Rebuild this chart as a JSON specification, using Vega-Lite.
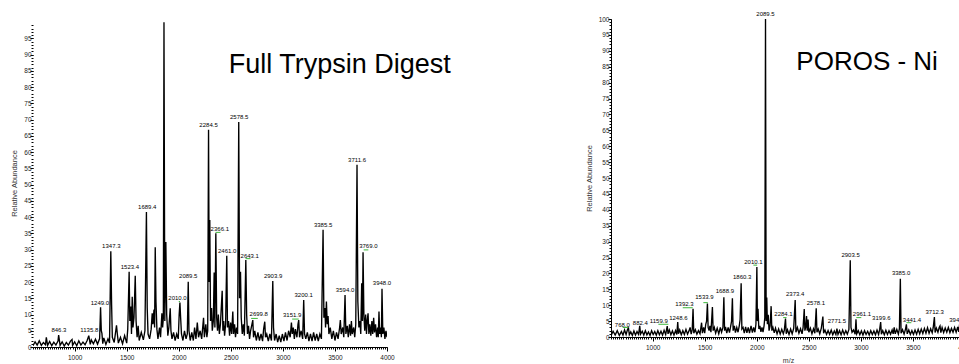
{
  "$schema": "https://vega.github.io/schema/vega-lite/v6.json",
  "padding": {"left": 10, "top": 10, "right": 0, "bottom": 0},
  "spacing": 133,
  "config": {"view": {"stroke": null}, "axis": {"grid": false, "domainColor": "black", "tickColor": "black", "labelColor": "#222", "labelFont": "Liberation Sans Narrow, Liberation Sans", "labelFontSize": 6.5, "titleFont": "Liberation Sans", "titleFontWeight": "normal", "titleColor": "#333"}},
  "datasets": {
    "left": [
      {"mz":600,"i":0.4},{"mz":620,"i":1.6},{"mz":640,"i":0.6},{"mz":660,"i":1.9},{"mz":680,"i":0.5},{"mz":700,"i":1.4},{"mz":720,"i":0.7},{"mz":728,"i":3.0},{"mz":740,"i":0.5},{"mz":760,"i":1.7},{"mz":780,"i":0.4},{"mz":800,"i":1.5},{"mz":820,"i":0.6},{"mz":840,"i":1.8},{"mz":846.3,"i":3.7},{"mz":860,"i":0.5},{"mz":880,"i":1.6},{"mz":900,"i":0.3},{"mz":920,"i":1.4},{"mz":940,"i":0.6},{"mz":960,"i":1.8},{"mz":975,"i":2.3},{"mz":980,"i":0.5},{"mz":1000,"i":1.6},{"mz":1020,"i":0.4},{"mz":1040,"i":1.9},{"mz":1060,"i":0.6},{"mz":1080,"i":1.5},{"mz":1100,"i":0.7},{"mz":1120,"i":2.0},{"mz":1135.8,"i":3.5},{"mz":1150,"i":0.8},{"mz":1160,"i":2.2},{"mz":1180,"i":1.0},{"mz":1200,"i":2.4},{"mz":1220,"i":0.9},{"mz":1240,"i":2.6},{"mz":1249,"i":12.2},{"mz":1256,"i":5.0},{"mz":1262,"i":4.2},{"mz":1270,"i":1.0},{"mz":1280,"i":2.8},{"mz":1300,"i":0.8},{"mz":1320,"i":2.5},{"mz":1335,"i":1.2},{"mz":1347.3,"i":29.5},{"mz":1355,"i":13.0},{"mz":1362,"i":3.0},{"mz":1380,"i":1.4},{"mz":1395,"i":5.0},{"mz":1402,"i":6.7},{"mz":1410,"i":4.0},{"mz":1420,"i":1.2},{"mz":1440,"i":3.0},{"mz":1460,"i":1.0},{"mz":1480,"i":3.5},{"mz":1500,"i":1.2},{"mz":1510,"i":5.5},{"mz":1523.4,"i":23.2},{"mz":1530,"i":8.0},{"mz":1540,"i":12.5},{"mz":1546,"i":4.0},{"mz":1553,"i":15.5},{"mz":1560,"i":6.0},{"mz":1570,"i":9.0},{"mz":1582,"i":21.9},{"mz":1590,"i":8.0},{"mz":1600,"i":3.0},{"mz":1610,"i":6.5},{"mz":1620,"i":2.0},{"mz":1640,"i":4.5},{"mz":1660,"i":2.2},{"mz":1675,"i":5.0},{"mz":1689.4,"i":41.6},{"mz":1697,"i":12.0},{"mz":1705,"i":4.0},{"mz":1720,"i":2.5},{"mz":1735,"i":5.5},{"mz":1745,"i":10.4},{"mz":1752,"i":7.0},{"mz":1762,"i":11.5},{"mz":1768,"i":6.0},{"mz":1774,"i":30.7},{"mz":1781,"i":14.0},{"mz":1790,"i":5.5},{"mz":1800,"i":2.5},{"mz":1815,"i":6.0},{"mz":1825,"i":3.0},{"mz":1838,"i":10.4},{"mz":1845,"i":6.0},{"mz":1852,"i":9.0},{"mz":1858,"i":100},{"mz":1866,"i":8.0},{"mz":1876,"i":32.3},{"mz":1884,"i":10.0},{"mz":1895,"i":3.5},{"mz":1905,"i":6.0},{"mz":1918,"i":11.9},{"mz":1925,"i":5.0},{"mz":1935,"i":2.5},{"mz":1950,"i":4.5},{"mz":1965,"i":2.0},{"mz":1980,"i":4.0},{"mz":1995,"i":2.5},{"mz":2004,"i":10.0},{"mz":2011,"i":13.7},{"mz":2018,"i":9.0},{"mz":2026,"i":4.0},{"mz":2040,"i":2.0},{"mz":2055,"i":5.0},{"mz":2070,"i":2.5},{"mz":2082,"i":4.0},{"mz":2091,"i":20.1},{"mz":2098,"i":5.0},{"mz":2110,"i":2.0},{"mz":2125,"i":4.5},{"mz":2140,"i":2.0},{"mz":2152,"i":6.0},{"mz":2165,"i":2.5},{"mz":2178,"i":7.5},{"mz":2190,"i":3.0},{"mz":2205,"i":5.0},{"mz":2220,"i":2.5},{"mz":2238,"i":9.0},{"mz":2246,"i":3.0},{"mz":2260,"i":7.0},{"mz":2270,"i":3.0},{"mz":2278,"i":5.0},{"mz":2286,"i":66.9},{"mz":2292,"i":20.0},{"mz":2298,"i":39.1},{"mz":2305,"i":8.0},{"mz":2315,"i":12.0},{"mz":2322,"i":5.0},{"mz":2332,"i":8.0},{"mz":2340,"i":22.9},{"mz":2347,"i":6.0},{"mz":2356,"i":35.0},{"mz":2364,"i":9.0},{"mz":2372,"i":5.0},{"mz":2380,"i":10.0},{"mz":2390,"i":4.0},{"mz":2400,"i":7.0},{"mz":2417,"i":17.3},{"mz":2424,"i":5.0},{"mz":2432,"i":8.0},{"mz":2440,"i":3.5},{"mz":2450,"i":7.0},{"mz":2461,"i":28.1},{"mz":2468,"i":6.0},{"mz":2478,"i":8.0},{"mz":2488,"i":3.5},{"mz":2498,"i":7.5},{"mz":2508,"i":4.0},{"mz":2519,"i":10.9},{"mz":2526,"i":4.0},{"mz":2536,"i":7.0},{"mz":2545,"i":3.0},{"mz":2555,"i":6.0},{"mz":2565,"i":4.0},{"mz":2576,"i":69.3},{"mz":2584,"i":15.0},{"mz":2593,"i":23.2},{"mz":2600,"i":9.0},{"mz":2610,"i":4.0},{"mz":2620,"i":7.0},{"mz":2630,"i":3.5},{"mz":2644,"i":26.8},{"mz":2652,"i":10.0},{"mz":2660,"i":4.0},{"mz":2670,"i":6.5},{"mz":2680,"i":2.5},{"mz":2690,"i":5.0},{"mz":2711,"i":8.3},{"mz":2718,"i":3.0},{"mz":2730,"i":5.0},{"mz":2745,"i":2.0},{"mz":2760,"i":4.5},{"mz":2775,"i":2.0},{"mz":2790,"i":4.0},{"mz":2805,"i":1.8},{"mz":2815,"i":5.5},{"mz":2826,"i":7.8},{"mz":2833,"i":3.0},{"mz":2845,"i":4.0},{"mz":2860,"i":1.8},{"mz":2875,"i":4.0},{"mz":2890,"i":2.0},{"mz":2903,"i":20.3},{"mz":2910,"i":6.0},{"mz":2920,"i":2.0},{"mz":2935,"i":4.0},{"mz":2950,"i":1.5},{"mz":2965,"i":3.5},{"mz":2980,"i":1.5},{"mz":2995,"i":4.0},{"mz":3010,"i":1.8},{"mz":3025,"i":4.5},{"mz":3040,"i":2.0},{"mz":3055,"i":5.0},{"mz":3070,"i":3.0},{"mz":3082,"i":7.5},{"mz":3090,"i":4.0},{"mz":3100,"i":6.0},{"mz":3110,"i":2.5},{"mz":3120,"i":5.5},{"mz":3135,"i":3.0},{"mz":3145,"i":7.0},{"mz":3152,"i":8.3},{"mz":3160,"i":3.0},{"mz":3175,"i":5.0},{"mz":3190,"i":2.5},{"mz":3200,"i":14.5},{"mz":3208,"i":4.0},{"mz":3220,"i":2.5},{"mz":3235,"i":4.5},{"mz":3250,"i":1.8},{"mz":3265,"i":4.0},{"mz":3280,"i":1.8},{"mz":3295,"i":4.5},{"mz":3310,"i":2.0},{"mz":3325,"i":4.0},{"mz":3340,"i":1.8},{"mz":3355,"i":4.0},{"mz":3370,"i":2.5},{"mz":3386,"i":36.1},{"mz":3394,"i":9.0},{"mz":3403,"i":12.0},{"mz":3410,"i":6.0},{"mz":3418,"i":14.0},{"mz":3426,"i":7.0},{"mz":3434,"i":9.5},{"mz":3442,"i":4.0},{"mz":3455,"i":6.0},{"mz":3470,"i":2.5},{"mz":3485,"i":5.0},{"mz":3500,"i":2.0},{"mz":3515,"i":4.5},{"mz":3530,"i":2.5},{"mz":3545,"i":6.0},{"mz":3552,"i":8.3},{"mz":3560,"i":4.0},{"mz":3575,"i":6.0},{"mz":3585,"i":3.0},{"mz":3597,"i":16.0},{"mz":3605,"i":4.0},{"mz":3618,"i":6.5},{"mz":3628,"i":3.0},{"mz":3640,"i":7.0},{"mz":3650,"i":3.5},{"mz":3658,"i":8.0},{"mz":3666,"i":4.0},{"mz":3680,"i":6.0},{"mz":3690,"i":3.0},{"mz":3700,"i":7.0},{"mz":3712,"i":56.1},{"mz":3720,"i":14.0},{"mz":3730,"i":6.0},{"mz":3740,"i":8.0},{"mz":3748,"i":4.0},{"mz":3757,"i":19.6},{"mz":3764,"i":8.0},{"mz":3770,"i":29.2},{"mz":3778,"i":10.0},{"mz":3786,"i":5.0},{"mz":3795,"i":10.0},{"mz":3803,"i":4.0},{"mz":3810,"i":8.0},{"mz":3818,"i":10.4},{"mz":3826,"i":4.0},{"mz":3835,"i":7.0},{"mz":3845,"i":3.5},{"mz":3855,"i":8.0},{"mz":3863,"i":4.0},{"mz":3872,"i":9.0},{"mz":3880,"i":4.5},{"mz":3890,"i":7.0},{"mz":3900,"i":3.0},{"mz":3910,"i":6.0},{"mz":3916,"i":3.0},{"mz":3923,"i":10.9},{"mz":3930,"i":4.0},{"mz":3940,"i":6.0},{"mz":3946,"i":3.0},{"mz":3952,"i":17.9},{"mz":3960,"i":4.0},{"mz":3970,"i":6.0},{"mz":3980,"i":2.5},{"mz":3990,"i":5.0},{"mz":4000,"i":3.0}
    ],
    "leftLabels": [
      {"mz":849,"i":3.6,"t":"846.3"},{"mz":1141,"i":3.6,"t":"1135.8"},{"mz":1243,"i":11.9,"t":"1249.0"},{"mz":1352,"i":29.5,"t":"1347.3"},{"mz":1531,"i":23.2,"t":"1523.4"},{"mz":1697,"i":41.5,"t":"1689.4"},{"mz":1988,"i":13.5,"t":"2010.0"},{"mz":2091,"i":20.3,"t":"2089.5"},{"mz":2286,"i":66.8,"t":"2284.5"},{"mz":2394,"i":34.9,"t":"2366.1"},{"mz":2465,"i":28.1,"t":"2461.0"},{"mz":2580,"i":69.3,"t":"2578.5"},{"mz":2682,"i":26.6,"t":"2643.1"},{"mz":2768,"i":8.5,"t":"2699.8"},{"mz":2906,"i":20.3,"t":"2903.9"},{"mz":3089,"i":8.3,"t":"3151.9"},{"mz":3200,"i":14.5,"t":"3200.1"},{"mz":3386,"i":36,"t":"3385.5"},{"mz":3597,"i":15.9,"t":"3594.0"},{"mz":3712,"i":56,"t":"3711.6"},{"mz":3821,"i":29.5,"t":"3769.0"},{"mz":3952,"i":18.1,"t":"3948.0"}
    ],
    "leftGreen": [
      {"mz":2000,"mz2":2012,"i":14.0},{"mz":2353,"mz2":2401,"i":35.3},{"mz":2641,"mz2":2689,"i":27.2},{"mz":2695,"mz2":2759,"i":8.8},{"mz":3089,"mz2":3152,"i":8.6},{"mz":3776,"mz2":3821,"i":29.9}
    ],
    "leftTitle": [{"mz":2480,"i":84.3,"t":"Full Trypsin Digest"}],
    "right": [
      {"mz":600,"i":0.4},{"mz":620,"i":1.8},{"mz":640,"i":0.6},{"mz":660,"i":2.0},{"mz":680,"i":0.5},{"mz":700,"i":1.7},{"mz":715,"i":0.6},{"mz":730,"i":2.2},{"mz":745,"i":0.8},{"mz":760,"i":2.5},{"mz":768,"i":2.8},{"mz":776,"i":0.7},{"mz":790,"i":1.6},{"mz":805,"i":0.5},{"mz":820,"i":1.9},{"mz":835,"i":0.6},{"mz":850,"i":1.7},{"mz":865,"i":0.8},{"mz":876,"i":3.5},{"mz":884,"i":0.9},{"mz":900,"i":1.8},{"mz":915,"i":0.6},{"mz":930,"i":2.0},{"mz":945,"i":0.7},{"mz":960,"i":1.6},{"mz":975,"i":0.5},{"mz":990,"i":2.0},{"mz":1005,"i":0.8},{"mz":1020,"i":1.7},{"mz":1035,"i":0.6},{"mz":1050,"i":2.0},{"mz":1065,"i":0.7},{"mz":1080,"i":1.8},{"mz":1095,"i":0.6},{"mz":1110,"i":2.1},{"mz":1125,"i":0.8},{"mz":1140,"i":3.4},{"mz":1148,"i":1.0},{"mz":1160,"i":2.2},{"mz":1175,"i":0.7},{"mz":1190,"i":1.9},{"mz":1205,"i":0.6},{"mz":1220,"i":2.0},{"mz":1232,"i":0.8},{"mz":1241,"i":4.7},{"mz":1248,"i":1.0},{"mz":1260,"i":2.2},{"mz":1275,"i":0.7},{"mz":1290,"i":2.0},{"mz":1305,"i":0.8},{"mz":1320,"i":2.4},{"mz":1335,"i":0.9},{"mz":1350,"i":2.0},{"mz":1360,"i":3.0},{"mz":1370,"i":0.9},{"mz":1380,"i":2.2},{"mz":1388,"i":8.9},{"mz":1395,"i":1.2},{"mz":1410,"i":2.3},{"mz":1425,"i":0.9},{"mz":1440,"i":2.0},{"mz":1455,"i":1.0},{"mz":1470,"i":4.5},{"mz":1478,"i":1.2},{"mz":1490,"i":3.0},{"mz":1500,"i":1.2},{"mz":1510,"i":4.0},{"mz":1518,"i":5.0},{"mz":1526,"i":10.5},{"mz":1533,"i":3.0},{"mz":1542,"i":2.0},{"mz":1550,"i":3.5},{"mz":1560,"i":1.5},{"mz":1574,"i":9.4},{"mz":1581,"i":2.0},{"mz":1592,"i":3.0},{"mz":1605,"i":1.2},{"mz":1620,"i":2.8},{"mz":1635,"i":1.0},{"mz":1650,"i":3.0},{"mz":1662,"i":1.5},{"mz":1675,"i":3.0},{"mz":1684,"i":12.5},{"mz":1691,"i":2.0},{"mz":1700,"i":3.2},{"mz":1712,"i":1.2},{"mz":1725,"i":3.0},{"mz":1738,"i":1.4},{"mz":1750,"i":3.5},{"mz":1758,"i":5.0},{"mz":1766,"i":12.2},{"mz":1773,"i":2.0},{"mz":1785,"i":3.5},{"mz":1795,"i":1.4},{"mz":1808,"i":3.0},{"mz":1820,"i":1.5},{"mz":1832,"i":3.5},{"mz":1840,"i":5.5},{"mz":1850,"i":16.9},{"mz":1857,"i":2.5},{"mz":1868,"i":3.0},{"mz":1880,"i":1.2},{"mz":1893,"i":3.2},{"mz":1905,"i":1.3},{"mz":1918,"i":3.0},{"mz":1930,"i":1.2},{"mz":1945,"i":3.5},{"mz":1958,"i":1.4},{"mz":1970,"i":3.0},{"mz":1982,"i":1.5},{"mz":1992,"i":4.0},{"mz":2001,"i":22.0},{"mz":2006,"i":5.0},{"mz":2012,"i":8.9},{"mz":2020,"i":2.5},{"mz":2030,"i":3.5},{"mz":2040,"i":1.6},{"mz":2050,"i":3.0},{"mz":2060,"i":1.5},{"mz":2070,"i":3.5},{"mz":2077,"i":6.0},{"mz":2084,"i":100},{"mz":2090,"i":5.0},{"mz":2096,"i":12.4},{"mz":2102,"i":4.0},{"mz":2110,"i":7.0},{"mz":2118,"i":2.0},{"mz":2128,"i":3.5},{"mz":2138,"i":9.7},{"mz":2145,"i":2.0},{"mz":2155,"i":3.0},{"mz":2168,"i":1.3},{"mz":2180,"i":2.8},{"mz":2195,"i":1.0},{"mz":2210,"i":2.5},{"mz":2225,"i":0.9},{"mz":2240,"i":2.4},{"mz":2255,"i":1.0},{"mz":2265,"i":2.2},{"mz":2276,"i":5.8},{"mz":2283,"i":1.0},{"mz":2295,"i":2.3},{"mz":2310,"i":0.8},{"mz":2325,"i":2.5},{"mz":2340,"i":1.0},{"mz":2355,"i":2.8},{"mz":2369,"i":11.6},{"mz":2376,"i":1.5},{"mz":2390,"i":3.0},{"mz":2405,"i":1.2},{"mz":2420,"i":2.6},{"mz":2435,"i":1.0},{"mz":2445,"i":3.0},{"mz":2456,"i":8.8},{"mz":2462,"i":2.0},{"mz":2470,"i":3.0},{"mz":2478,"i":6.6},{"mz":2485,"i":2.0},{"mz":2493,"i":5.5},{"mz":2500,"i":1.5},{"mz":2515,"i":2.8},{"mz":2530,"i":1.0},{"mz":2545,"i":2.6},{"mz":2558,"i":1.2},{"mz":2571,"i":9.0},{"mz":2578,"i":1.5},{"mz":2590,"i":2.5},{"mz":2605,"i":1.0},{"mz":2620,"i":2.8},{"mz":2635,"i":6.4},{"mz":2642,"i":1.2},{"mz":2655,"i":2.2},{"mz":2670,"i":0.8},{"mz":2685,"i":2.0},{"mz":2700,"i":0.8},{"mz":2715,"i":2.2},{"mz":2730,"i":0.7},{"mz":2745,"i":1.9},{"mz":2760,"i":0.8},{"mz":2770,"i":2.6},{"mz":2780,"i":0.8},{"mz":2795,"i":2.0},{"mz":2810,"i":0.7},{"mz":2825,"i":2.2},{"mz":2840,"i":0.8},{"mz":2855,"i":2.0},{"mz":2870,"i":0.9},{"mz":2885,"i":2.4},{"mz":2898,"i":24.1},{"mz":2905,"i":3.0},{"mz":2915,"i":1.5},{"mz":2930,"i":2.2},{"mz":2945,"i":0.9},{"mz":2953,"i":5.6},{"mz":2960,"i":1.0},{"mz":2975,"i":2.0},{"mz":2990,"i":0.7},{"mz":3005,"i":1.9},{"mz":3020,"i":0.6},{"mz":3035,"i":2.0},{"mz":3050,"i":0.8},{"mz":3065,"i":1.8},{"mz":3080,"i":0.6},{"mz":3095,"i":2.0},{"mz":3110,"i":0.8},{"mz":3125,"i":1.9},{"mz":3140,"i":0.7},{"mz":3155,"i":2.2},{"mz":3170,"i":0.8},{"mz":3180,"i":2.3},{"mz":3190,"i":4.7},{"mz":3197,"i":0.9},{"mz":3210,"i":2.0},{"mz":3225,"i":0.7},{"mz":3240,"i":2.1},{"mz":3255,"i":0.8},{"mz":3270,"i":2.0},{"mz":3285,"i":0.9},{"mz":3300,"i":2.2},{"mz":3310,"i":1.0},{"mz":3320,"i":3.0},{"mz":3330,"i":1.0},{"mz":3345,"i":2.4},{"mz":3360,"i":0.9},{"mz":3370,"i":2.6},{"mz":3379,"i":18.3},{"mz":3386,"i":1.2},{"mz":3400,"i":2.3},{"mz":3415,"i":0.9},{"mz":3428,"i":2.4},{"mz":3437,"i":4.0},{"mz":3445,"i":1.0},{"mz":3460,"i":2.2},{"mz":3475,"i":0.8},{"mz":3490,"i":2.0},{"mz":3505,"i":0.8},{"mz":3520,"i":2.2},{"mz":3535,"i":0.9},{"mz":3550,"i":2.4},{"mz":3565,"i":1.0},{"mz":3580,"i":2.5},{"mz":3595,"i":1.1},{"mz":3610,"i":2.7},{"mz":3625,"i":1.2},{"mz":3640,"i":2.9},{"mz":3655,"i":1.2},{"mz":3670,"i":2.6},{"mz":3685,"i":1.3},{"mz":3695,"i":3.0},{"mz":3706,"i":6.3},{"mz":3713,"i":1.4},{"mz":3725,"i":2.8},{"mz":3740,"i":1.5},{"mz":3752,"i":3.0},{"mz":3760,"i":3.5},{"mz":3768,"i":1.4},{"mz":3780,"i":3.0},{"mz":3795,"i":1.4},{"mz":3810,"i":2.8},{"mz":3825,"i":1.5},{"mz":3840,"i":3.0},{"mz":3855,"i":1.4},{"mz":3870,"i":2.7},{"mz":3885,"i":1.5},{"mz":3900,"i":3.0},{"mz":3915,"i":1.5},{"mz":3930,"i":3.2},{"mz":3940,"i":1.6},{"mz":3948,"i":4.0},{"mz":3956,"i":1.5},{"mz":3970,"i":3.0},{"mz":3985,"i":1.4},{"mz":4000,"i":2.8}
    ],
    "rightLabels": [
      {"mz":2084,"i":100.1,"t":"2089.5"},{"mz":1968,"i":21.9,"t":"2010.1"},{"mz":1860,"i":17.3,"t":"1860.3"},{"mz":1693,"i":12.8,"t":"1688.9"},{"mz":1497,"i":11.1,"t":"1533.9"},{"mz":1305,"i":8.7,"t":"1392.3"},{"mz":1247,"i":4.5,"t":"1248.6"},{"mz":1059,"i":3.5,"t":"1159.9"},{"mz":882,"i":2.9,"t":"882.4"},{"mz":709,"i":2.1,"t":"768.0"},{"mz":2257,"i":5.6,"t":"2284.1"},{"mz":2369,"i":11.8,"t":"2373.4"},{"mz":2568,"i":9.2,"t":"2578.1"},{"mz":2770,"i":3.4,"t":"2771.5"},{"mz":2901,"i":24.3,"t":"2903.5"},{"mz":3011,"i":5.7,"t":"2961.1"},{"mz":3196,"i":4.5,"t":"3199.6"},{"mz":3386,"i":18.4,"t":"3385.0"},{"mz":3491,"i":3.9,"t":"3441.4"},{"mz":3709,"i":6.4,"t":"3712.3"},{"mz":3937,"i":3.8,"t":"3948.0"}
    ],
    "rightGreen": [
      {"mz":712,"mz2":766,"i":3.0},{"mz":1055,"mz2":1151,"i":4.0},{"mz":1289,"mz2":1385,"i":9.2},{"mz":1487,"mz2":1530,"i":10.8},{"mz":1968,"mz2":2004,"i":22.6},{"mz":2254,"mz2":2286,"i":6.1},{"mz":2956,"mz2":3004,"i":6.1},{"mz":3437,"mz2":3485,"i":4.5}
    ],
    "rightTitle": [{"mz":2380,"i":83.9,"t":"POROS - Ni"}]
  },
  "hconcat": [
    {
      "width": 354,
      "height": 328,
      "layer": [
        {
          "data": {"name": "left"},
          "mark": {"type": "line", "color": "black", "strokeWidth": 1.35, "clip": true},
          "encoding": {
            "x": {"field": "mz", "type": "quantitative", "scale": {"domain": [600, 4000], "nice": false, "zero": false},
                  "axis": {"orient": "bottom", "values": [1000, 1500, 2000, 2500, 3000, 3500, 4000], "format": "d", "tickSize": 4, "labelPadding": 3, "labelFlush": false, "title": null}},
            "y": {"field": "i", "type": "quantitative", "scale": {"domain": [0, 101], "nice": false},
                  "axis": {"orient": "left", "domain": false, "values": [0,5,10,15,20,25,30,35,40,45,50,55,60,65,70,75,80,85,90,95], "format": "d", "tickSize": 3, "labelPadding": -1, "title": "Relative Abundance", "titleFontSize": 7.5, "titlePadding": 5}}
          }
        },
        {
          "data": {"name": "leftLabels"},
          "mark": {"type": "text", "baseline": "middle", "dy": -5, "fontSize": 6, "font": "Liberation Sans Narrow, Liberation Sans", "color": "black"},
          "encoding": {
            "x": {"field": "mz", "type": "quantitative", "axis": {"orient": "bottom", "tickCount": 170, "labels": false, "domain": false, "tickSize": 2, "title": null}},
            "y": {"field": "i", "type": "quantitative", "axis": {"orient": "left", "values": [0,1,2,3,4,5,6,7,8,9,10,11,12,13,14,15,16,17,18,19,20,21,22,23,24,25,26,27,28,29,30,31,32,33,34,35,36,37,38,39,40,41,42,43,44,45,46,47,48,49,50,51,52,53,54,55,56,57,58,59,60,61,62,63,64,65,66,67,68,69,70,71,72,73,74,75,76,77,78,79,80,81,82,83,84,85,86,87,88,89,90,91,92,93,94,95,96,97,98,99], "labels": false, "domain": false, "tickSize": 2, "title": null}},
            "text": {"field": "t"}
          }
        },
        {
          "mark": {"type": "rule", "color": "black", "strokeWidth": 1},
          "encoding": {
            "x": {"datum": 600, "type": "quantitative", "axis": null},
            "y": {"datum": 0, "type": "quantitative", "axis": null},
            "y2": {"datum": 99.2}
          }
        },
        {
          "data": {"name": "leftGreen"},
          "mark": {"type": "rule", "color": "#3cb83c", "strokeWidth": 1},
          "encoding": {
            "x": {"field": "mz", "type": "quantitative", "axis": null},
            "x2": {"field": "mz2"},
            "y": {"field": "i", "type": "quantitative", "axis": null}
          }
        },
        {
          "data": {"name": "leftTitle"},
          "mark": {"type": "text", "align": "left", "baseline": "alphabetic", "fontSize": 27, "font": "Liberation Sans", "color": "black"},
          "encoding": {
            "x": {"field": "mz", "type": "quantitative", "axis": null},
            "y": {"field": "i", "type": "quantitative", "axis": null},
            "text": {"field": "t"}
          }
        }
      ],
      "resolve": {"axis": {"x": "independent", "y": "independent"}}
    },
    {
      "width": 354,
      "height": 318,
      "layer": [
        {
          "data": {"name": "right"},
          "mark": {"type": "line", "color": "black", "strokeWidth": 1.35, "clip": true},
          "encoding": {
            "x": {"field": "mz", "type": "quantitative", "scale": {"domain": [600, 4000], "nice": false, "zero": false},
                  "axis": {"orient": "bottom", "values": [1000, 1500, 2000, 2500, 3000, 3500, 4000], "format": "d", "tickSize": 4, "labelPadding": 3, "labelFlush": false, "title": "m/z", "titleFontSize": 7, "titlePadding": 6}},
            "y": {"field": "i", "type": "quantitative", "scale": {"domain": [0, 100], "nice": false},
                  "axis": {"orient": "left", "values": [0,5,10,15,20,25,30,35,40,45,50,55,60,65,70,75,80,85,90,95,100], "format": "d", "tickSize": 3, "labelPadding": -1, "title": "Relative Abundance", "titleFontSize": 7.5, "titlePadding": 5}}
          }
        },
        {
          "data": {"name": "rightLabels"},
          "mark": {"type": "text", "baseline": "middle", "dy": -5, "fontSize": 6, "font": "Liberation Sans Narrow, Liberation Sans", "color": "black"},
          "encoding": {
            "x": {"field": "mz", "type": "quantitative", "axis": {"orient": "bottom", "tickCount": 170, "labels": false, "domain": false, "tickSize": 2, "title": null}},
            "y": {"field": "i", "type": "quantitative", "axis": {"orient": "left", "tickCount": 100, "labels": false, "domain": false, "tickSize": 2, "title": null}},
            "text": {"field": "t"}
          }
        },
        {
          "data": {"name": "rightGreen"},
          "mark": {"type": "rule", "color": "#3cb83c", "strokeWidth": 1},
          "encoding": {
            "x": {"field": "mz", "type": "quantitative", "axis": null},
            "x2": {"field": "mz2"},
            "y": {"field": "i", "type": "quantitative", "axis": null}
          }
        },
        {
          "data": {"name": "rightTitle"},
          "mark": {"type": "text", "align": "left", "baseline": "alphabetic", "fontSize": 26, "font": "Liberation Sans", "color": "black"},
          "encoding": {
            "x": {"field": "mz", "type": "quantitative", "axis": null},
            "y": {"field": "i", "type": "quantitative", "axis": null},
            "text": {"field": "t"}
          }
        }
      ],
      "resolve": {"axis": {"x": "independent", "y": "independent"}}
    }
  ]
}
